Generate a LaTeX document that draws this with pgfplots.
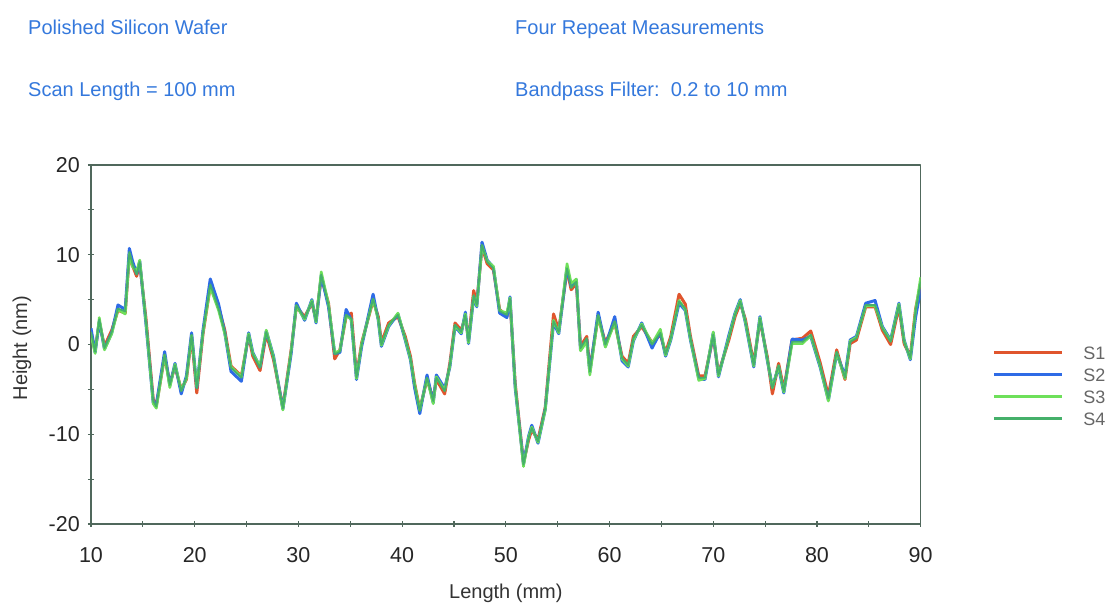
\documentclass[border=0pt]{standalone}
\usepackage{fontspec}
\setmainfont{Liberation Sans}
\usepackage{pgfplots}
\pgfplotsset{compat=1.18}
\usepackage{pgfplotstable}

\definecolor{titleblue}{RGB}{52,120,220}
\definecolor{axisgray}{RGB}{80,104,92}
\definecolor{sone}{RGB}{224,85,45}
\definecolor{stwo}{RGB}{46,107,230}
\definecolor{sthree}{RGB}{110,224,90}
\definecolor{sfour}{RGB}{69,176,106}

% x, S1, S2, S3, S4 (nm)
\pgfplotstableread{
x s1 s2 s3 s4
10.0 1.2 1.8 1.0 1.4
10.4 -0.6 -0.9 -1.0 -0.8
10.8 2.5 2.6 3.0 2.8
11.3 -0.2 -0.5 -0.6 -0.4
12.0 1.6 1.3 1.2 1.4
12.6 3.8 4.4 3.9 4.0
13.3 3.5 3.9 3.4 3.7
13.7 10.0 10.7 10.1 10.3
14.0 8.8 9.3 8.7 9.0
14.4 7.6 7.9 8.1 7.8
14.7 9.0 9.3 9.4 9.2
15.3 2.9 2.3 2.5 2.6
16.0 -6.1 -6.5 -6.6 -6.3
16.3 -6.8 -6.7 -7.1 -6.9
17.1 -1.3 -0.8 -1.2 -1.1
17.6 -4.3 -4.6 -4.8 -4.5
18.1 -2.5 -2.1 -2.2 -2.3
18.7 -5.0 -5.5 -5.1 -5.2
19.2 -3.9 -3.5 -3.8 -3.7
19.7 0.9 1.3 1.0 1.1
20.2 -5.4 -4.8 -4.7 -4.9
20.8 1.2 1.6 1.3 1.4
21.5 6.5 7.3 6.4 6.7
22.3 4.2 4.5 3.8 4.0
22.9 1.6 1.3 1.2 1.4
23.5 -2.4 -3.0 -2.5 -2.6
24.5 -3.5 -4.1 -3.6 -3.7
25.2 1.0 1.3 1.2 1.1
25.6 -1.3 -0.9 -1.0 -1.1
26.3 -2.9 -2.5 -2.4 -2.6
26.9 1.2 1.5 1.6 1.4
27.6 -1.7 -1.3 -1.4 -1.5
28.5 -7.0 -7.2 -7.3 -7.1
29.3 -0.6 -1.0 -0.7 -0.8
29.8 4.2 4.6 4.3 4.4
30.6 3.1 2.7 2.8 2.9
31.3 4.6 5.0 4.9 4.8
31.7 2.8 2.4 2.5 2.6
32.2 7.5 7.7 8.1 7.8
32.9 4.6 4.2 4.5 4.4
33.5 -1.6 -1.0 -0.9 -1.1
34.0 -0.6 -0.9 -0.7 -0.8
34.6 3.1 3.9 3.2 3.3
35.1 3.5 2.7 2.8 2.9
35.6 -3.5 -3.9 -3.8 -3.7
36.1 0.2 -0.2 0.1 0.0
37.2 4.9 5.6 5.0 5.1
37.7 3.1 2.7 2.8 2.9
38.0 0.2 -0.2 -0.1 0.0
38.7 2.4 2.0 2.1 2.2
39.6 3.1 3.4 3.5 3.3
40.3 0.9 0.5 0.6 0.7
40.8 -1.3 -1.7 -1.6 -1.5
41.2 -4.3 -4.8 -4.4 -4.5
41.7 -7.2 -7.7 -7.3 -7.4
42.4 -3.9 -3.4 -3.8 -3.7
43.0 -6.1 -6.5 -6.6 -6.3
43.3 -3.9 -3.4 -3.6 -3.7
44.1 -5.5 -4.9 -5.1 -5.2
44.6 -2.1 -2.5 -2.4 -2.3
45.1 2.4 2.0 2.1 2.2
45.7 1.6 1.2 1.3 1.4
46.1 3.1 3.6 3.4 3.3
46.4 0.5 0.1 0.2 0.3
46.9 6.0 5.3 5.4 5.5
47.2 4.6 4.2 4.3 4.4
47.7 10.9 11.4 11.0 11.1
48.2 9.0 9.4 9.3 9.2
48.8 8.3 8.6 8.7 8.5
49.4 3.9 3.5 3.8 3.7
50.1 3.1 3.0 3.5 3.3
50.4 4.9 5.3 5.2 5.1
50.9 -4.3 -4.8 -4.6 -4.5
51.7 -13.2 -13.3 -13.6 -13.4
52.2 -10.6 -10.2 -10.3 -10.4
52.5 -9.5 -9.0 -9.2 -9.3
53.1 -10.6 -11.0 -10.9 -10.8
53.8 -7.0 -7.2 -7.3 -7.1
54.6 3.4 2.4 2.7 2.6
55.1 1.6 1.2 1.3 1.4
55.9 8.3 8.6 9.0 8.5
56.3 6.1 6.5 6.8 6.3
56.8 6.8 7.2 7.3 7.0
57.2 -0.2 -0.6 -0.7 -0.4
57.8 0.9 0.5 0.3 0.7
58.1 -2.8 -3.1 -3.4 -3.0
58.9 3.1 3.6 3.2 3.3
59.6 0.2 -0.2 -0.3 0.0
60.5 2.4 3.1 2.5 2.6
61.2 -1.3 -1.8 -1.6 -1.5
61.8 -2.1 -2.5 -2.4 -2.3
62.3 0.9 0.4 0.5 0.7
63.1 2.0 2.4 2.3 2.2
64.1 0.2 -0.4 0.1 0.0
64.9 1.1 1.4 1.7 1.3
65.4 -0.9 -1.3 -1.2 -1.1
65.9 0.9 0.5 0.6 0.7
66.7 5.6 4.6 4.9 4.8
67.3 4.5 3.8 3.9 4.0
67.8 0.9 0.5 0.6 0.7
68.6 -3.5 -3.8 -4.0 -3.7
69.2 -3.5 -3.9 -3.8 -3.7
70.0 0.9 1.3 1.4 1.1
70.5 -3.2 -3.6 -3.5 -3.4
71.5 0.5 1.0 0.8 0.7
72.1 3.1 3.5 3.4 3.3
72.6 4.6 5.0 4.9 4.8
73.1 2.8 2.4 2.5 2.6
73.9 -2.1 -2.5 -2.4 -2.3
74.5 2.7 3.1 3.0 2.9
75.2 -1.3 -1.7 -1.6 -1.5
75.7 -5.5 -4.7 -4.8 -4.9
76.3 -2.1 -2.5 -2.4 -2.3
76.8 -5.0 -5.4 -5.3 -5.2
77.6 0.5 0.6 0.1 0.3
78.6 0.7 0.5 0.1 0.3
79.4 1.5 0.9 1.0 1.1
80.3 -2.0 -2.5 -2.4 -2.3
81.1 -5.7 -6.2 -6.3 -6.0
81.9 -0.6 -1.0 -0.9 -0.8
82.7 -3.9 -3.5 -3.8 -3.7
83.2 0.1 0.5 0.4 0.3
83.8 0.5 0.9 0.8 0.7
84.7 4.2 4.6 4.3 4.4
85.6 4.2 4.9 4.3 4.4
86.3 1.6 2.0 1.9 1.8
87.1 0.0 0.5 0.4 0.3
87.9 4.2 4.6 4.5 4.4
88.4 0.1 0.5 0.4 0.3
89.0 -1.3 -1.7 -1.6 -1.5
89.5 3.9 3.0 3.8 3.7
90.0 6.8 6.2 7.5 7.0
}\scans

\begin{document}
\begin{tikzpicture}
\useasboundingbox (0,0) rectangle (1113bp,608bp);

% header text
\begin{scope}[every node/.style={anchor=base west, inner sep=0pt, text=titleblue, font=\fontsize{20bp}{24bp}\selectfont}]
  \node at (28bp,573bp) {Polished Silicon Wafer};
  \node at (28bp,511bp) {Scan Length = 100 mm};
  \node at (515bp,573bp) {Four Repeat Measurements};
  \node at (515bp,511bp) {Bandpass Filter:\ \ 0.2 to 10 mm};
\end{scope}

\begin{axis}[
    at={(91bp,84bp)}, anchor=south west,
    scale only axis, width=829.7bp, height=359bp,
    xmin=10, xmax=90, ymin=-20, ymax=20,
    xtick={10,20,...,90}, ytick={-20,-10,...,20},
    minor tick num=1,
    tick pos=left, tick align=center,
    major tick length=6bp, minor tick length=6bp,
    axis line style={axisgray, line width=1.6bp},
    every tick/.style={axisgray, line width=1.2bp},
    /pgf/number format/assume math mode=true,
    tick label style={font=\fontsize{21.5bp}{24bp}\selectfont, text=black!85, inner sep=0pt},
    xticklabel style={yshift=-20bp},
    yticklabel style={xshift=-8bp},
    xlabel={Length (mm)}, ylabel={Height (nm)},
    every axis x label/.style={at={(axis description cs:0.5,-0.192)}, anchor=center,
        font=\fontsize{20bp}{24bp}\selectfont, text=black!80},
    every axis y label/.style={at={(axis description cs:-0.0832,0.49)}, anchor=center, rotate=90,
        font=\fontsize{20bp}{24bp}\selectfont, text=black!80},
    legend style={draw=none, fill=none, at={(axis description cs:1.086,0.495)}, anchor=north west,
        font=\fontsize{18bp}{20bp}\selectfont, text=black!60, inner sep=0pt,
        row sep=8bp, nodes={inner sep=0pt},
        /tikz/every odd column/.append style={column sep=20bp}},
    legend cell align=left,
    legend image code/.code={\draw[#1, line width=3bp] (0bp,0.12em) -- (68bp,0.12em);},
    line join=round,
]
\addplot[sone, line width=3bp] table[x=x, y=s1] {\scans};
\addlegendentry{S1}
\addplot[stwo, line width=3bp] table[x=x, y=s2] {\scans};
\addlegendentry{S2}
\addplot[sthree, line width=2.6bp] table[x=x, y=s3] {\scans};
\addlegendentry{S3}
\addplot[sfour, line width=1.8bp] table[x=x, y=s4] {\scans};
\addlegendentry{S4}
\end{axis}
\end{tikzpicture}
\end{document}
